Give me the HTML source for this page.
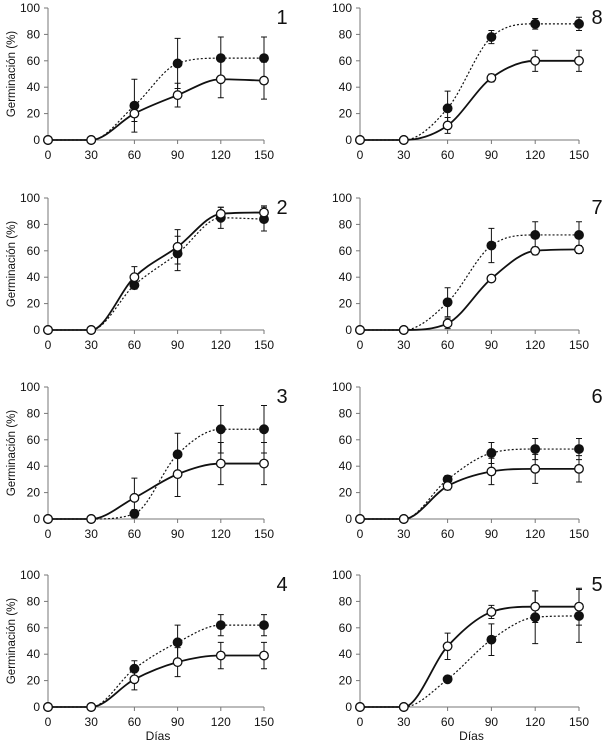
<!DOCTYPE html>
<html><head><meta charset="utf-8"><style>
html,body{margin:0;padding:0;background:#fff;}
svg{display:block;font-family:"Liberation Sans",Arial,sans-serif;}
</style></head><body>
<svg id="chart" width="603" height="743" viewBox="0 0 603 743"></svg>
<script>
const days = [0, 30, 60, 90, 120, 150];
const xTicks = [0, 30, 60, 90, 120, 150];
const yTicks = [0, 20, 40, 60, 80, 100];
const panelLabels = ["1", "8", "2", "7", "3", "6", "4", "5"];
const openVals = [
  [0,0,20,34,46,45],[0,0,11,47,60,60],[0,0,40,63,88,89],[0,0,5,39,60,61],
  [0,0,16,34,42,42],[0,0,25,36,38,38],[0,0,21,34,39,39],[0,0,46,72,76,76]];
const openErr = [
  [0,0,6,9,14,14],[0,0,6,3,8,8],[0,0,8,13,5,5],[0,0,4,2,3,3],
  [0,0,15,17,16,16],[0,0,3,10,11,10],[0,0,8,11,10,10],[0,0,10,5,12,14]];
const filledVals = [
  [0,0,26,58,62,62],[0,0,24,78,88,88],[0,0,34,58,85,84],[0,0,21,64,72,72],
  [0,0,4,49,68,68],[0,0,30,50,53,53],[0,0,29,49,62,62],[0,0,21,51,68,69]];
const filledErr = [
  [0,0,20,19,16,16],[0,0,13,5,4,5],[0,0,3,13,8,9],[0,0,11,13,10,10],
  [0,0,3,16,18,18],[0,0,3,8,8,8],[0,0,6,13,8,8],[0,0,2,12,20,20]];

const NS = "http://www.w3.org/2000/svg";
const svg = document.getElementById("chart");
function mk(tag, attrs, parent){const e=document.createElementNS(NS,tag);for(const k in attrs)e.setAttribute(k,attrs[k]);(parent||svg).appendChild(e);return e;}

function smoothPath(pts){
  const n=pts.length, dx=[], m=[], t=[];
  for(let i=0;i<n-1;i++){dx.push(pts[i+1][0]-pts[i][0]);m.push((pts[i+1][1]-pts[i][1])/dx[i]);}
  t[0]=m[0]; t[n-1]=m[n-2];
  for(let i=1;i<n-1;i++){ t[i]=(m[i-1]*m[i]<=0)?0:(m[i-1]+m[i])/2; }
  for(let i=0;i<n-1;i++){
    if(m[i]===0){t[i]=0;t[i+1]=0;continue;}
    const a=t[i]/m[i],b=t[i+1]/m[i],s=a*a+b*b;
    if(s>9){const k=3/Math.sqrt(s);t[i]=k*a*m[i];t[i+1]=k*b*m[i];}
  }
  let d="M"+pts[0][0]+","+pts[0][1];
  for(let i=0;i<n-1;i++){
    const h=dx[i]/3;
    d+=" C"+(pts[i][0]+h)+","+(pts[i][1]+t[i]*h)+" "+(pts[i+1][0]-h)+","+(pts[i+1][1]-t[i+1]*h)+" "+pts[i+1][0]+","+pts[i+1][1];
  }
  return d;
}

const rowY0 = [140, 330, 519, 707];
const colX = [[48,264],[360,579]];
for(let p=0;p<8;p++){
  const col=p%2,row=Math.floor(p/2);
  const x0=colX[col][0],x1=colX[col][1],yb=rowY0[row],yt=yb-132;
  const X=v=>x0+(v-0)/150*(x1-x0);
  const Y=v=>yb-v/100*(yb-yt);
  const g=mk("g",{});
  
  
  const ax=mk("path",{d:"M"+x0+","+yt+" L"+x0+","+yb+" L"+x1+","+yb,stroke:"#777",fill:"none","stroke-width":1},g);
  
  
  yTicks.forEach(t=>{
    mk("line",{x1:x0-4,x2:x0,y1:Y(t),y2:Y(t),stroke:"#777"},g);
    const tx=mk("text",{x:x0-8,y:Y(t)+4,"text-anchor":"end","font-size":12,fill:"#111"},g);
    tx.textContent=t;
    
    
  });
  xTicks.forEach(t=>{
    mk("line",{x1:X(t),x2:X(t),y1:yb,y2:yb+4,stroke:"#777"},g);
    const tx=mk("text",{x:X(t),y:yb+19,"text-anchor":"middle","font-size":12,fill:"#111"},g);
    tx.textContent=t;
    
    
  });
  const lb=mk("text",{x:x1+18,y:yt+16,"text-anchor":"middle","font-size":20,fill:"#111"},g);
  lb.textContent=panelLabels[p];
  
  
  if(col===0){
    const yl=mk("text",{x:0,y:0,transform:"translate(15,"+((yt+yb)/2)+") rotate(-90)","text-anchor":"middle","font-size":11.5,fill:"#111"},g);
    yl.textContent="Germinación (%)";
    
    
  }
  if(row===3){
    const xl=mk("text",{x:(x0+x1)/2+2,y:yb+33,"text-anchor":"middle","font-size":12,fill:"#111"},g);
    xl.textContent="Días";
    
    
  }
  const series=[
    {v:filledVals[p],e:filledErr[p],fill:"#111",dash:"2,2",w:1.2,name:"filled"},
    {v:openVals[p],e:openErr[p],fill:"#fff",dash:"",w:1.8,name:"open"}];
  series.forEach(s=>{
    const pts=days.map((d,i)=>[X(d),Y(s.v[i])]);
    const ln=mk("path",{d:smoothPath(pts),fill:"none",stroke:"#111","stroke-width":s.w,"stroke-dasharray":s.dash},g);
    
    
  });
  series.forEach(s=>{
    days.forEach((d,i)=>{
      if(s.e[i]>0){
        const cx=X(d),a=Y(s.v[i]+s.e[i]),b=Y(Math.max(0,s.v[i]-s.e[i]));
        const eb=mk("path",{d:"M"+cx+","+a+" L"+cx+","+b+" M"+(cx-3)+","+a+" L"+(cx+3)+","+a+" M"+(cx-3)+","+b+" L"+(cx+3)+","+b,stroke:"#111","stroke-width":1,fill:"none"},g);
        
        
      }
    });
  });
  series.forEach(s=>{
    days.forEach((d,i)=>{
      const c=mk("circle",{cx:X(d),cy:Y(s.v[i]),r:4.3,fill:s.fill,stroke:"#111","stroke-width":1.3},g);
      
      
    });
  });
}
</script>
</body></html>
